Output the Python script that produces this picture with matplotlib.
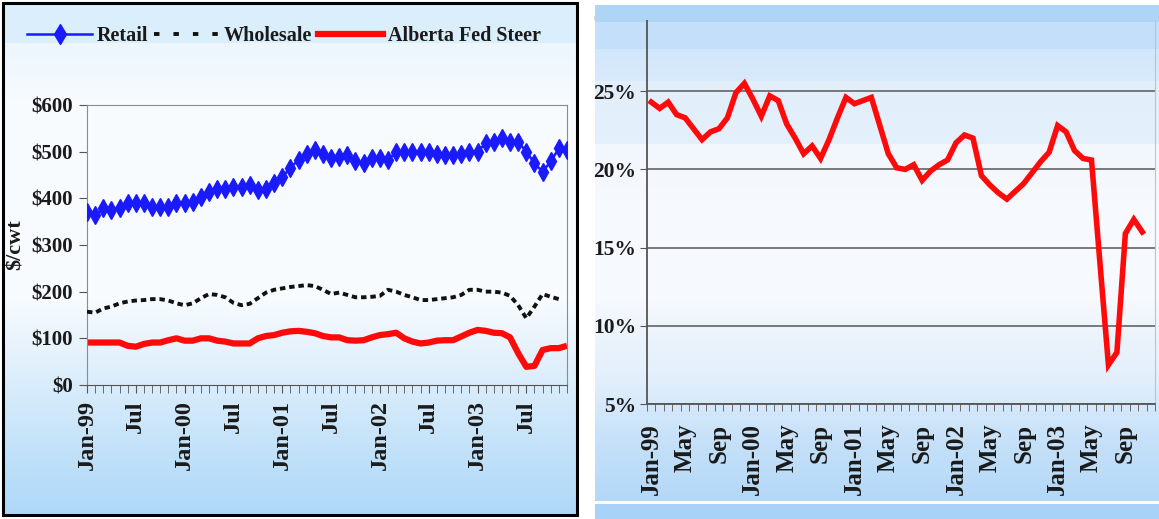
import numpy as np
import matplotlib.pyplot as plt
from matplotlib.colors import to_rgb
from matplotlib.lines import Line2D
from matplotlib.patches import Rectangle

W, H = 1159, 519

# Monthly series, Jan-99 .. Dec-03 ($/cwt)
retail = [371, 364, 379, 376, 379, 389, 389, 389, 381, 382, 382, 389,
          389, 393, 402, 414, 421, 421, 425, 425, 429, 418, 421, 432,
          445, 466, 482, 496, 504, 496, 486, 489, 493, 479, 476, 486,
          486, 482, 500, 500, 500, 500, 500, 496, 493, 493, 496, 500,
          500, 518, 521, 529, 521, 521, 500, 475, 457, 479, 507, 504]
wholesale = [157, 155, 164, 168, 175, 179, 181, 182, 184, 184, 181, 175,
             171, 175, 186, 195, 193, 188, 176, 171, 174, 186, 198, 204,
             207, 210, 212, 214, 212, 204, 195, 198, 193, 188, 188, 189,
             191, 204, 200, 193, 188, 182, 182, 184, 186, 188, 193, 204,
             204, 200, 200, 198, 191, 171, 143, 168, 195, 189, 184, np.nan]
fed_steer = [91, 91, 91, 91, 91, 84, 82, 88, 91, 91, 96, 100,
             95, 95, 100, 100, 95, 93, 89, 89, 89, 100, 105, 107,
             112, 115, 116, 114, 111, 105, 102, 102, 96, 95, 96, 102,
             107, 109, 112, 100, 93, 89, 91, 95, 96, 96, 104, 112,
             118, 116, 112, 111, 102, 68, 39, 41, 75, 79, 79, 84]

# Producer share (%), Jan-99 .. Nov-03
share = [24.3, 23.9, 24.3, 23.5, 23.3, 22.6, 21.9, 22.4, 22.6, 23.3, 24.9, 25.5,
         24.5, 23.4, 24.7, 24.4, 22.9, 22.0, 21.0, 21.5, 20.7, 21.9, 23.3, 24.6,
         24.2, 24.4, 24.6, 22.8, 21.0, 20.1, 20.0, 20.3, 19.3, 19.9, 20.3, 20.6,
         21.7, 22.2, 22.0, 19.6, 19.0, 18.5, 18.1, 18.6, 19.1, 19.8, 20.5, 21.1,
         22.8, 22.4, 21.2, 20.7, 20.6, 14.0, 7.5, 8.3, 15.9, 16.8, 16.0]

left_labels = ['Jan-99', 'Jul', 'Jan-00', 'Jul', 'Jan-01', 'Jul',
               'Jan-02', 'Jul', 'Jan-03', 'Jul']
right_labels = ['Jan-99', 'May', 'Sep', 'Jan-00', 'May', 'Sep', 'Jan-01', 'May',
                'Sep', 'Jan-02', 'May', 'Sep', 'Jan-03', 'May', 'Sep']

FONT = 'Liberation Serif'
plt.rcParams['font.family'] = [FONT, 'DejaVu Serif']
plt.rcParams['font.weight'] = 'bold'

fig = plt.figure(figsize=(W / 100, H / 100), dpi=100, facecolor='white')


def px_axes(x0, y0, x1, y1, **kw):
    return fig.add_axes([x0 / W, 1 - y1 / H, (x1 - x0) / W, (y1 - y0) / H], **kw)


def panel_bg(x0, y0, x1, y1, stops):
    ax = px_axes(x0, y0, x1, y1, zorder=-5)
    ys = np.arange(y0, y1)
    pos = [p for p, _ in stops]
    img = np.stack([np.interp(ys, pos, [to_rgb(c)[k] for _, c in stops])
                    for k in range(3)], axis=-1)[:, None, :]
    ax.imshow(img, aspect='auto', interpolation='nearest')
    ax.set_axis_off()


# panel backgrounds
panel_bg(3, 3, 577, 515, [(3, '#daeefb'), (42, '#daeefb'), (43, '#edf6fd'),
                          (100, '#f7fbfe'), (300, '#f7fbfe'), (350, '#e6f2fc'),
                          (400, '#d4eafb'), (460, '#bfe0f9'), (515, '#aed8f8')])
panel_bg(595, 5, 1159, 519, [(5, '#aed4f6'), (21, '#aed4f6'), (22, '#c4dff9'),
                             (48, '#c4dff9'), (49, '#d2e7fa'), (80, '#d8eafb'),
                             (81, '#e2effb'), (143, '#e4f0fb'), (144, '#f2f7fd'),
                             (200, '#f6f9fe'), (300, '#f6f9fe'), (330, '#edf4fc'),
                             (380, '#e2effb'), (405, '#d6e9fb'), (440, '#c6e1f9'),
                             (500, '#b4d8f8'), (501, '#ffffff'), (503, '#ffffff'),
                             (504, '#a8d2f7'), (519, '#a8d2f7')])

# ---- left: retail / wholesale / fed steer prices ----
ax1 = px_axes(87, 105, 567, 385, facecolor='none')
x1 = np.arange(len(retail))
ax1.plot(x1, fed_steer, color='#ff0a0a', lw=4.5, solid_capstyle='butt', zorder=2)
ax1.plot(x1, wholesale, color='#111111', lw=2.8, dashes=(1.4, 1.0), zorder=3)
ax1.plot(x1, retail, color='#1a1aff', lw=1.8, marker='d', ms=9,
         mec='#1a1aff', mfc='#1a1aff', zorder=4)

ax1.set_xlim(0, len(retail) - 1)
ax1.set_ylim(0, 600)
ax1.set_yticks(range(0, 601, 100))
ax1.set_yticklabels(['\\$%d' % v for v in range(0, 601, 100)])
ax1.set_xticks(np.arange(0, len(retail), 6))
ax1.set_xticklabels(left_labels, rotation=90)
ax1.set_xticks(np.arange(len(retail)), minor=True)
ax1.tick_params(axis='x', which='both', length=6, color='#555555', pad=5,
                labelsize=17.5, labelcolor='#1a1a1a')
ax1.tick_params(axis='y', length=6, color='#555555', labelsize=15, pad=4,
                labelcolor='#1a1a1a')
for s in ['top', 'right', 'left']:
    ax1.spines[s].set_color('#8c8c8c')
ax1.spines['bottom'].set_color('#555555')
fig.text(16 / W, 1 - 245 / H, '\\$/cwt', rotation=90, ha='center', va='center',
         fontsize=16, fontweight='bold', color='#1a1a1a')

handles = [Line2D([], [], color='#1a1aff', lw=1.8, marker='d', ms=10),
           Line2D([], [], color='#111111', lw=2.8, dashes=(1.4, 3.6)),
           Line2D([], [], color='#ff0a0a', lw=4.5)]
ax1.legend(handles, ['Retail', 'Wholesale', 'Alberta Fed Steer'], ncol=3,
           loc='center', bbox_to_anchor=(284 / W, 1 - 36 / H),
           bbox_transform=fig.transFigure, frameon=False, fontsize=14.5,
           handlelength=3.2, handletextpad=0.25, columnspacing=0.3,
           labelcolor='#1a1a1a')

fig.add_artist(Rectangle((3 / W, 1 - 515 / H), 574 / W, 512 / H, fill=False,
                         ec='black', lw=2.2, transform=fig.transFigure, zorder=10))

# ---- right: producer share ----
ax2 = px_axes(647, 13, 1155, 404, facecolor='none')
x2 = np.arange(len(share))
ax2.plot(x2, share, color='#ff0a0a', lw=4, solid_joinstyle='miter', zorder=3)
ax2.set_xlim(-0.5, 59.5)
ax2.set_ylim(5, 30)
ax2.set_yticks(range(5, 31, 5))
ax2.set_yticklabels(['%d%%' % v for v in range(5, 31, 5)])
ax2.grid(axis='y', color='#6e6e6e', lw=1.3, zorder=1)
ax2.set_xticks(np.arange(0, 60, 4))
ax2.set_xticklabels(right_labels, rotation=90)
ax2.set_xticks(np.arange(-0.5, 60, 1), minor=True)
ax2.tick_params(axis='x', which='major', length=0, pad=14, labelsize=18,
                labelcolor='#1a1a1a')
ax2.tick_params(axis='x', which='minor', length=5, color='#555555')
ax2.tick_params(axis='y', length=5, color='#555555', labelsize=15.5, pad=3,
                labelcolor='#1a1a1a')
ax2.spines['top'].set_visible(False)
ax2.spines['right'].set_color('#b8c4d0')
ax2.spines['left'].set_color('#555555')
ax2.spines['bottom'].set_color('#555555')
ax2.spines['left'].set_linewidth(1.3)
ax2.spines['bottom'].set_linewidth(1.3)

fig.add_artist(Rectangle((595 / W, 1 - 20 / H), (W - 595) / W, 15 / H,
                         color='#aed4f6', lw=0, transform=fig.transFigure, zorder=10))

fig.savefig('out.png', dpi=100)
